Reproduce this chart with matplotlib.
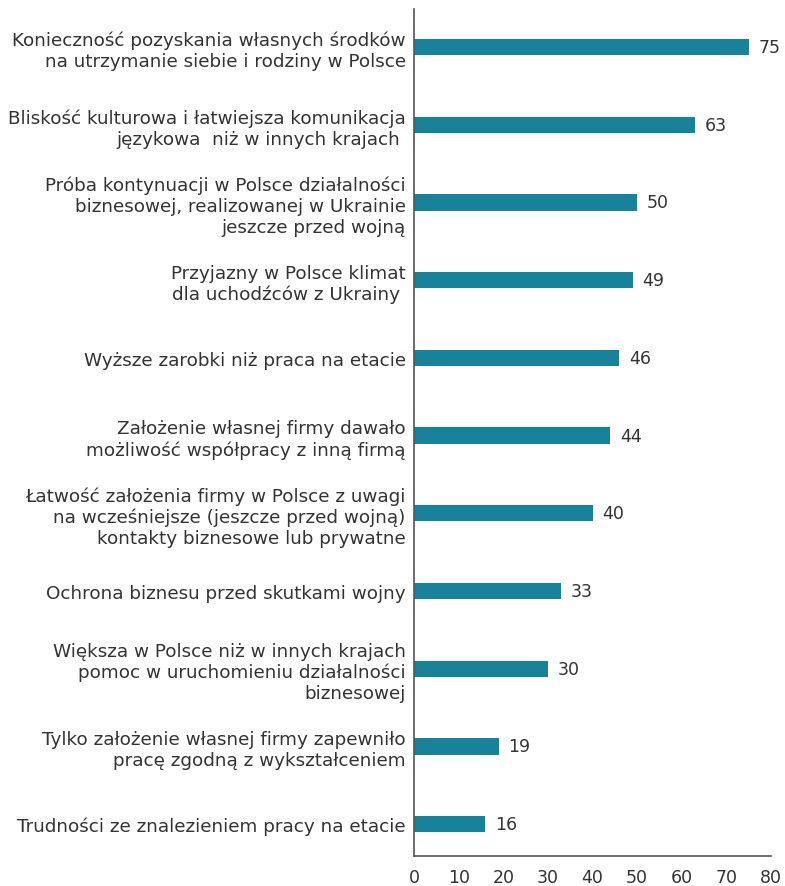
import matplotlib.pyplot as plt

# Data
labels = [
    "Konieczność pozyskania własnych środków\nna utrzymanie siebie i rodziny w Polsce",
    "Bliskość kulturowa i łatwiejsza komunikacja\njęzykowa  niż w innych krajach ",
    "Próba kontynuacji w Polsce działalności\nbiznesowej, realizowanej w Ukrainie\njeszcze przed wojną",
    "Przyjazny w Polsce klimat\ndla uchodźców z Ukrainy ",
    "Wyższe zarobki niż praca na etacie",
    "Założenie własnej firmy dawało\nmożliwość współpracy z inną firmą",
    "Łatwość założenia firmy w Polsce z uwagi\nna wcześniejsze (jeszcze przed wojną)\nkontakty biznesowe lub prywatne",
    "Ochrona biznesu przed skutkami wojny",
    "Większa w Polsce niż w innych krajach\npomoc w uruchomieniu działalności\nbiznesowej",
    "Tylko założenie własnej firmy zapewniło\npracę zgodną z wykształceniem",
    "Trudności ze znalezieniem pracy na etacie",
]
values = [75, 63, 50, 49, 46, 44, 40, 33, 30, 19, 16]
xticks = [0, 10, 20, 30, 40, 50, 60, 70, 80]

plt.rcParams["font.family"] = ["DejaVu Sans"]

fig = plt.figure(figsize=(7.85, 8.87), dpi=100)
ax = fig.add_axes([414 / 785, 30 / 887, 357 / 785, 847 / 887])

pos = list(range(len(values)))
ax.barh(pos, values, height=0.21, color="#18829b")

# value labels next to bars
for p, v in zip(pos, values):
    ax.text(v + 2.2, p, str(v), va="center", ha="left", fontsize=12.5, color="#333333")

ax.set_yticks(pos)
ax.set_yticklabels(labels, fontsize=13.2, color="#333333", linespacing=1.2)
ax.set_xticks(xticks)
ax.set_xticklabels([str(t) for t in xticks], fontsize=12.5, color="#333333")
ax.tick_params(axis="both", length=0)
ax.tick_params(axis="y", pad=6)
ax.tick_params(axis="x", pad=9)

ax.set_xlim(0, 80)
ax.set_ylim(10.41, -0.49)

for s in ["top", "right"]:
    ax.spines[s].set_visible(False)
for s in ["left", "bottom"]:
    ax.spines[s].set_color("#555555")
    ax.spines[s].set_linewidth(1.2)

fig.savefig("out.png", dpi=100)
